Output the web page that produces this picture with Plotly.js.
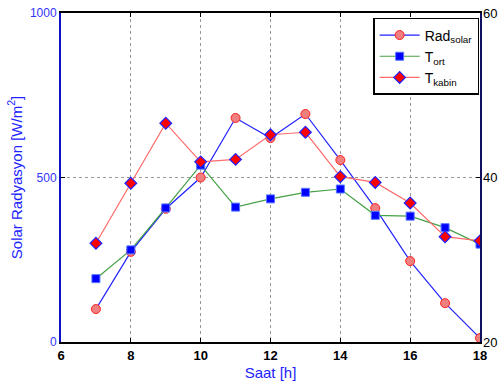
<!DOCTYPE html>
<html>
<head>
<meta charset="utf-8">
<script src="https://cdn.plot.ly/plotly-3.0.1.min.js"></script>
<style>html,body{margin:0;padding:0;background:#fff;}#chart{width:498px;height:387px;}</style>
</head>
<body>
<div id="chart"></div>
<script>
const hours = [7, 8, 9, 10, 11, 12, 13, 14, 15, 16, 17, 18];
const radSolar = [100, 274, 405, 500, 681, 620, 693, 553, 407, 246, 118, 12];
const tOrt = [27.7, 31.2, 36.3, 41.5, 36.4, 37.4, 38.2, 38.6, 35.4, 35.3, 33.9, 31.9];
const tKabin = [32.0, 39.3, 46.6, 41.9, 42.2, 45.2, 45.5, 40.1, 39.4, 36.9, 32.8, 32.3];
const xTicks = [6, 8, 10, 12, 14, 16, 18];
const leftTicks = [0, 500, 1000];
const rightTicks = [20, 40, 60];

const traces = [
  {x: hours, y: radSolar, name: 'Rad<sub>solar</sub>', type: 'scatter', mode: 'lines+markers', yaxis: 'y',
   line: {color: '#2222ff', width: 1.2},
   marker: {symbol: 'circle', size: 9, color: '#f08080', line: {color: '#ff2020', width: 1}}},
  {x: hours, y: tOrt, name: 'T<sub>ort</sub>', type: 'scatter', mode: 'lines+markers', yaxis: 'y2',
   line: {color: '#44a044', width: 1.2},
   marker: {symbol: 'square', size: 8, color: '#0000ff', line: {color: '#5577ff', width: 1}}},
  {x: hours, y: tKabin, name: 'T<sub>kabin</sub>', type: 'scatter', mode: 'lines+markers', yaxis: 'y2',
   line: {color: '#ff6a6a', width: 1.2},
   marker: {symbol: 'diamond', size: 9, color: '#ff0000', line: {color: '#2222ff', width: 1.2}}}
];

const layout = {
  width: 498, height: 387,
  margin: {l: 61, r: 18, t: 13, b: 45},
  paper_bgcolor: '#fff', plot_bgcolor: '#fff',
  font: {family: 'Liberation Sans, Arial, sans-serif', size: 12, color: '#000'},
  showlegend: true,
  legend: {x: 0.745, y: 0.985, xanchor: 'left', yanchor: 'top', bgcolor: '#fff',
           bordercolor: '#000', borderwidth: 1.5, font: {size: 14, color: '#000'},
           tracegroupgap: 2, itemwidth: 40},
  xaxis: {range: [6, 18], tickvals: xTicks, ticks: 'inside', ticklen: 4, tickcolor: '#000',
          showline: true, linecolor: '#000', linewidth: 2, mirror: 'ticks', zeroline: false,
          showgrid: true, gridcolor: '#999', griddash: 'dot', gridwidth: 1,
          tickfont: {size: 13, color: '#000', family: 'Liberation Sans, Arial, sans-serif', weight: 'bold'},
          title: {text: 'Saat [h]', font: {size: 15, color: '#2222ff'}, standoff: 6}},
  yaxis: {range: [0, 1000], tickvals: leftTicks, ticks: 'inside', ticklen: 4, tickcolor: '#000',
          showline: true, linecolor: '#1010c0', linewidth: 2, zeroline: false,
          showgrid: true, gridcolor: '#999', griddash: 'dot', gridwidth: 1,
          tickfont: {size: 12, color: '#3333ff'},
          title: {text: 'Solar Radyasyon [W/m<sup>2</sup>]', font: {size: 15, color: '#2222ff'}, standoff: 4}},
  yaxis2: {range: [20, 60], tickvals: rightTicks, overlaying: 'y', side: 'right', ticks: 'inside', ticklen: 4,
           tickcolor: '#000', showline: true, linecolor: '#101060', linewidth: 1.5, zeroline: false, showgrid: false,
           ticklabelstandoff: -1,
           tickfont: {size: 13, color: '#000'}}
};

Plotly.newPlot('chart', traces, layout, {displayModeBar: false, staticPlot: true});
</script>
</body>
</html>
